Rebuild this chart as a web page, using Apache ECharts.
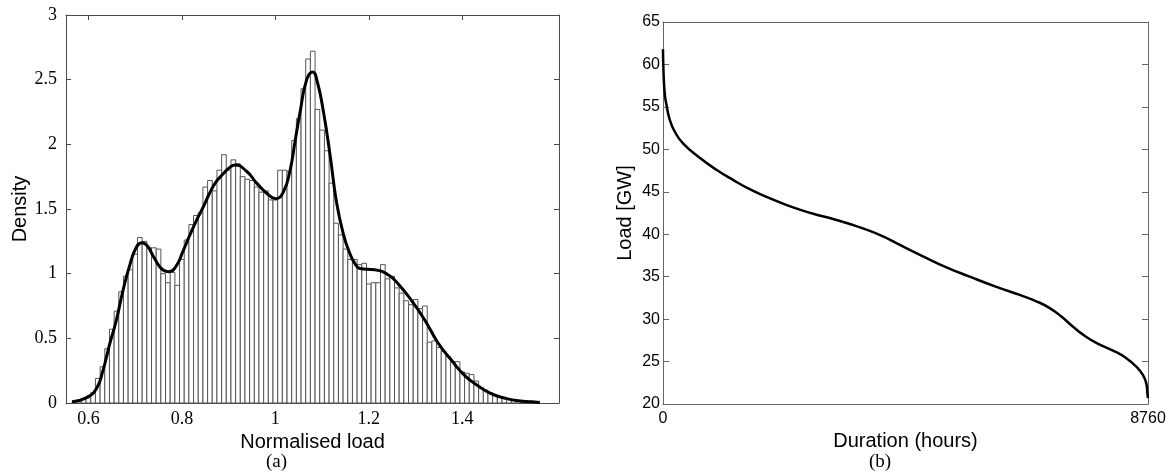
<!DOCTYPE html>
<html>
<head>
<meta charset="utf-8">
<script src="https://cdn.jsdelivr.net/npm/echarts@6/dist/echarts.min.js"></script>
<style>
  html, body { margin: 0; padding: 0; background: #fff; }
  #main { width: 1175px; height: 473px; }
</style>
</head>
<body>
<div id="main"></div>
<script>
// (a) histogram of normalised load, 0.01 wide bins
const binLeft = 0.565;
const binWidth = 0.01;
const density = [
  0.01, 0.02, 0.03, 0.04, 0.08, 0.19, 0.28, 0.42, 0.57, 0.71,
  0.86, 0.98, 1.03, 1.15, 1.28, 1.25, 1.20, 1.20, 1.19, 1.00,
  0.93, 1.01, 0.91, 1.11, 1.26, 1.38, 1.45, 1.47, 1.67, 1.72,
  1.64, 1.80, 1.92, 1.80, 1.88, 1.85, 1.75, 1.73, 1.72, 1.67,
  1.63, 1.64, 1.57, 1.57, 1.80, 1.80, 1.79, 2.03, 2.20, 2.43,
  2.66, 2.72, 2.27, 2.11, 1.95, 1.70, 1.39, 1.30, 1.19, 1.11,
  1.11, 1.07, 1.08, 0.92, 0.93, 0.93, 1.07, 0.96, 0.98, 0.89,
  0.85, 0.79, 0.76, 0.80, 0.73, 0.75, 0.47, 0.48, 0.43, 0.40,
  0.36, 0.32, 0.32, 0.24, 0.23, 0.22, 0.17, 0.12, 0.10, 0.08,
  0.06, 0.05, 0.035, 0.03, 0.02, 0.015, 0.01, 0.01, 0.005
];

// kernel density estimate
const kdeX = [0.565, 0.595, 0.617, 0.631, 0.645, 0.659, 0.674, 0.688, 0.702, 0.715,
  0.727, 0.741, 0.759, 0.773, 0.788, 0.802, 0.816, 0.831, 0.845, 0.859,
  0.873, 0.888, 0.902, 0.914, 0.939, 0.960, 0.982, 1.001, 1.017, 1.031,
  1.042, 1.053, 1.067, 1.080, 1.090, 1.103, 1.117, 1.131, 1.146, 1.159,
  1.170, 1.181, 1.213, 1.242, 1.263, 1.292, 1.320, 1.349, 1.377, 1.406,
  1.435, 1.463, 1.492, 1.520, 1.549, 1.566];
const kdeY = [0.01, 0.04, 0.11, 0.25, 0.45, 0.63, 0.87, 1.06, 1.20, 1.24,
  1.21, 1.12, 1.03, 1.015, 1.06, 1.17, 1.29, 1.41, 1.51, 1.62,
  1.71, 1.77, 1.82, 1.84, 1.79, 1.70, 1.62, 1.58, 1.63, 1.79,
  2.02, 2.25, 2.50, 2.56, 2.48, 2.25, 1.92, 1.55, 1.30, 1.16,
  1.08, 1.04, 1.03, 0.99, 0.92, 0.79, 0.64, 0.46, 0.33, 0.21,
  0.13, 0.07, 0.037, 0.017, 0.009, 0.004];
const xTicksA = [0.6, 0.8, 1, 1.2, 1.4];

// (b) load duration curve
const hours = [0, 10, 31, 61, 121, 211, 361, 663, 964, 1264,
  1566, 1867, 2168, 2469, 2771, 3071, 3372, 3674, 3974, 4216,
  4696, 5119, 5540, 6022, 6443, 6744, 6985, 7196, 7406, 7647,
  7888, 8128, 8369, 8550, 8670, 8730, 8750, 8760];
const loadGW = [61.8, 59.0, 56.6, 55.3, 53.5, 52.1, 50.7, 49.0, 47.6, 46.4,
  45.3, 44.4, 43.6, 42.9, 42.3, 41.8, 41.2, 40.55, 39.75, 38.95,
  37.4, 36.1, 35.0, 33.8, 32.85, 32.1, 31.3, 30.3, 29.1, 27.9,
  27.0, 26.3, 25.4, 24.4, 23.4, 22.4, 21.2, 20.7];
const xTicksB = [0, 8760];

const serif = "'Liberation Serif', 'Times New Roman', serif";
const sans = "'Liberation Sans', Arial, sans-serif";
const boxA = '#4a4a4a';
const boxB = '#666';

const bins = density.map((d, i) => [binLeft + i * binWidth, binLeft + (i + 1) * binWidth, d]);

const chart = echarts.init(document.getElementById('main'));

chart.setOption({
  animation: false,
  grid: [
    { left: 66, top: 15, width: 493, height: 388 },
    { left: 663, top: 22, width: 485, height: 382 }
  ],
  xAxis: [
    {
      gridIndex: 0, type: 'value', min: 0.552, max: 1.607, position: 'bottom',
      name: 'Normalised load', nameLocation: 'middle', nameGap: 24,
      nameTextStyle: { fontFamily: sans, fontSize: 20, color: '#000' },
      axisLine: { onZero: false, lineStyle: { color: boxA } },
      axisTick: { inside: true, length: 5, customValues: xTicksA, lineStyle: { color: boxA } },
      axisLabel: { customValues: xTicksA, fontFamily: serif, fontSize: 18, color: '#000', margin: 7 },
      splitLine: { show: false }
    },
    {
      gridIndex: 0, type: 'value', min: 0.552, max: 1.607, position: 'top',
      axisLine: { onZero: false, lineStyle: { color: boxA } },
      axisTick: { inside: true, length: 5, customValues: xTicksA, lineStyle: { color: boxA } },
      axisLabel: { show: false },
      splitLine: { show: false }
    },
    {
      gridIndex: 1, type: 'value', min: 0, max: 8760, position: 'bottom',
      name: 'Duration (hours)', nameLocation: 'middle', nameGap: 24,
      nameTextStyle: { fontFamily: sans, fontSize: 20, color: '#000' },
      axisLine: { onZero: false, lineStyle: { color: boxB } },
      axisTick: { show: false },
      axisLabel: {
        customValues: xTicksB, fontFamily: sans, fontSize: 16, color: '#000', margin: 7,
        formatter: v => String(v)
      },
      splitLine: { show: false }
    },
    {
      gridIndex: 1, type: 'value', min: 0, max: 8760, position: 'top',
      axisLine: { onZero: false, lineStyle: { color: boxB } },
      axisTick: { show: false },
      axisLabel: { show: false },
      splitLine: { show: false }
    }
  ],
  yAxis: [
    {
      gridIndex: 0, type: 'value', min: 0, max: 3, interval: 0.5, position: 'left',
      name: 'Density', nameLocation: 'middle', nameGap: 36,
      nameTextStyle: { fontFamily: sans, fontSize: 20, color: '#000' },
      axisLine: { show: true, onZero: false, lineStyle: { color: boxA } },
      axisTick: { show: true, inside: true, length: 5, lineStyle: { color: boxA } },
      axisLabel: { fontFamily: serif, fontSize: 18, color: '#000', margin: 9 },
      splitLine: { show: false }
    },
    {
      gridIndex: 0, type: 'value', min: 0, max: 3, interval: 0.5, position: 'right',
      axisLine: { show: true, onZero: false, lineStyle: { color: boxA } },
      axisTick: { show: true, inside: true, length: 5, lineStyle: { color: boxA } },
      axisLabel: { show: false },
      splitLine: { show: false }
    },
    {
      gridIndex: 1, type: 'value', min: 20, max: 65, interval: 5, position: 'left',
      name: 'Load [GW]', nameLocation: 'middle', nameGap: 28,
      nameTextStyle: { fontFamily: sans, fontSize: 20, color: '#000' },
      axisLine: { show: true, onZero: false, lineStyle: { color: boxB } },
      axisTick: { show: true, inside: true, length: 6, lineStyle: { color: boxB } },
      axisLabel: { fontFamily: sans, fontSize: 16, color: '#000', margin: 3 },
      splitLine: { show: false }
    },
    {
      gridIndex: 1, type: 'value', min: 20, max: 65, interval: 5, position: 'right',
      axisLine: { show: true, onZero: false, lineStyle: { color: boxB } },
      axisTick: { show: true, inside: true, length: 6, lineStyle: { color: boxB } },
      axisLabel: { show: false },
      splitLine: { show: false }
    }
  ],
  series: [
    {
      type: 'custom',
      xAxisIndex: 0, yAxisIndex: 0,
      data: bins,
      encode: { x: [0, 1], y: 2 },
      renderItem: function (params, api) {
        const top = api.coord([api.value(0), api.value(2)]);
        const bottom = api.coord([api.value(1), 0]);
        return {
          type: 'rect',
          shape: { x: top[0], y: top[1], width: bottom[0] - top[0], height: bottom[1] - top[1] },
          style: { fill: '#fff', stroke: '#555', lineWidth: 1 }
        };
      },
      z: 2
    },
    {
      type: 'line',
      xAxisIndex: 0, yAxisIndex: 0,
      data: kdeX.map((x, i) => [x, kdeY[i]]),
      smooth: 0.5,
      showSymbol: false,
      lineStyle: { color: '#000', width: 3 },
      z: 3
    },
    {
      type: 'line',
      xAxisIndex: 2, yAxisIndex: 2,
      data: hours.map((h, i) => [h, loadGW[i]]),
      smooth: 0.5,
      showSymbol: false,
      lineStyle: { color: '#000', width: 2.5 },
      z: 3
    }
  ],
  graphic: [
    { type: 'text', left: 266, top: 453, style: { text: '(a)', font: '19px ' + serif, fill: '#000' } },
    { type: 'text', left: 869, top: 453, style: { text: '(b)', font: '19px ' + serif, fill: '#000' } }
  ]
});
</script>
</body>
</html>
